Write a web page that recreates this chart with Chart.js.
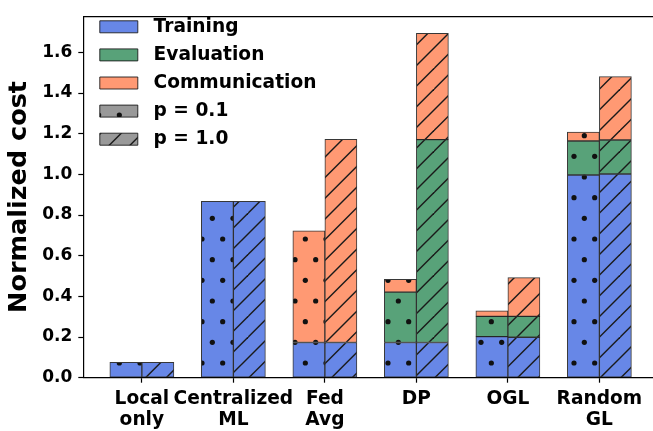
<!DOCTYPE html>
<html>
<head>
<meta charset="utf-8">
<script src="https://cdn.jsdelivr.net/npm/chart.js@4.4.1/dist/chart.umd.min.js"></script>
<style>
  html, body { margin: 0; padding: 0; background: #fff; }
  #c { display: block; }
</style>
</head>
<body>
<canvas id="c" width="653" height="431"></canvas>
<script>
// ---- data ----
const categories = [["Local", "only"], ["Centralized", "ML"], ["Fed", "Avg"], "DP", "OGL", ["Random", "GL"]];
const trainingP01      = [0.075, 0.867, 0.173, 0.173, 0.202, 0.997];
const evaluationP01    = [0,     0,     0,     0.248, 0.100, 0.167];
const communicationP01 = [0,     0,     0.549, 0.063, 0.027, 0.044];
const trainingP10      = [0.075, 0.867, 0.173, 0.173, 0.199, 1.002];
const evaluationP10    = [0,     0,     0,     0.998, 0.103, 0.167];
const communicationP10 = [0,     0,     1.000, 0.523, 0.190, 0.312];
const yTickValues = [0.0, 0.2, 0.4, 0.6, 0.8, 1.0, 1.2, 1.4, 1.6];
const legendNames = ["Training", "Evaluation", "Communication", "p = 0.1", "p = 1.0"];
const groupOffsets = [-0.175, 0.175];

// ---- styles ----
const FONT = "'DejaVu Sans', 'Liberation Sans', sans-serif";
const COL_TRAIN = "rgb(103,135,231)";
const COL_EVAL = "rgb(88,162,121)";
const COL_COMM = "rgb(255,153,115)";
const COL_GRAY = "rgb(153,153,153)";
const EDGE = "rgba(20,20,20,0.85)";

const canvas = document.getElementById('c');
const mainCtx = canvas.getContext('2d');

const P = 62 / 3;
function makePattern(color, kind) {
  const c = document.createElement('canvas');
  c.width = 62; c.height = 124;
  const g = c.getContext('2d');
  g.fillStyle = color;
  g.fillRect(0, 0, c.width, c.height);
  g.fillStyle = '#111';
  g.strokeStyle = '#1a1a1a';
  if (kind === 'dots') {
    for (let r = -1; r <= 7; r++) {
      const y = 11.67 + r * P;
      const off = (r % 2 === 0) ? 5.67 : 16.0;
      for (let x = off - P; x <= c.width + P; x += P) {
        g.beginPath();
        g.arc(x, y, 2.6, 0, Math.PI * 2);
        g.fill();
      }
    }
  } else if (kind === 'lines') {
    g.lineWidth = 1.4;
    for (let k = -2; k <= 12; k++) {
      const cc = 6.6 + k * P;
      g.beginPath();
      g.moveTo(cc + 20, -20);
      g.lineTo(cc - c.height - 20, c.height + 20);
      g.stroke();
    }
  }
  return mainCtx.createPattern(c, 'repeat');
}

function pts(values, off) {
  return values.map((v, i) => ({ x: i + off, y: v === 0 ? null : v }));
}

function ds(label, values, off, color, kind) {
  return {
    label: label,
    data: pts(values, off),
    backgroundColor: makePattern(color, kind),
    borderColor: EDGE,
    borderWidth: 1,
    borderSkipped: false,
    categoryPercentage: 1.0,
    barPercentage: 1.0
  };
}

const datasets = [
  ds('Training p=0.1', trainingP01, groupOffsets[0], COL_TRAIN, 'dots'),
  ds('Evaluation p=0.1', evaluationP01, groupOffsets[0], COL_EVAL, 'dots'),
  ds('Communication p=0.1', communicationP01, groupOffsets[0], COL_COMM, 'dots'),
  ds('Training p=1.0', trainingP10, groupOffsets[1], COL_TRAIN, 'lines'),
  ds('Evaluation p=1.0', evaluationP10, groupOffsets[1], COL_EVAL, 'lines'),
  ds('Communication p=1.0', communicationP10, groupOffsets[1], COL_COMM, 'lines')
];

const legendFills = [COL_TRAIN, COL_EVAL, COL_COMM, makePattern(COL_GRAY, 'dots'), makePattern(COL_GRAY, 'lines')];

const X_MIN = -0.64, X_MAX = 5.586;

const legendNudge = {
  id: 'legendNudge',
  afterLayout(chart) {
    if (chart.legend) {
      chart.legend.left += 7;
      chart.legend.top += 8;
    }
  }
};

new Chart(mainCtx, {
  type: 'bar',
  data: { datasets: datasets },
  plugins: [legendNudge],
  options: {
    responsive: false,
    animation: false,
    devicePixelRatio: 1,
    layout: { padding: { top: 4.3, left: 0, right: 0, bottom: 0 } },
    plugins: {
      tooltip: { enabled: false },
      legend: {
        position: 'chartArea',
        align: 'start',
        labels: {
          boxWidth: 38,
          boxHeight: 12,
          padding: 9.5,
          color: '#000',
          font: { family: FONT, size: 18.6, weight: 'bold' },
          generateLabels: () => legendNames.map((t, i) => ({
            text: ' ' + t,
            fillStyle: legendFills[i],
            strokeStyle: EDGE,
            lineWidth: 1,
            hidden: false,
            datasetIndex: i
          }))
        }
      }
    },
    scales: {
      x: {
        type: 'linear',
        min: X_MIN,
        max: X_MAX,
        stacked: true,
        offset: false,
        afterBuildTicks: (s) => { s.ticks = categories.map((_, i) => ({ value: i })); },
        afterFit: (s) => { s.height = 53.3; },
        ticks: {
          autoSkip: false,
          maxRotation: 0,
          minRotation: 0,
          padding: 6.5,
          color: '#000',
          font: { family: FONT, size: 18.6, weight: 'bold', lineHeight: 1.11 },
          callback: (v, i) => categories[i]
        },
        grid: { display: true, drawOnChartArea: false, drawTicks: true, tickLength: 5, tickColor: '#000', tickWidth: 1.2, offset: false },
        border: { display: true, color: '#000', width: 1.2 }
      },
      x2: {
        type: 'linear',
        position: 'top',
        min: X_MIN,
        max: X_MAX,
        offset: false,
        afterFit: (s) => { s.height = 0; },
        ticks: { display: false },
        grid: { display: false, drawTicks: false },
        border: { display: true, color: '#000', width: 1.2 }
      },
      y: {
        stacked: true,
        min: 0,
        max: 1.778,
        afterBuildTicks: (s) => { s.ticks = yTickValues.map(v => ({ value: v })); },
        afterFit: (s) => { s.width = 83.3; },
        ticks: {
          includeBounds: false,
          padding: 6,
          color: '#000',
          font: { family: FONT, size: 17, weight: 'bold' },
          callback: (v) => Number(v).toFixed(1)
        },
        grid: { display: true, drawOnChartArea: false, drawTicks: true, tickLength: 5, tickColor: '#000', tickWidth: 1.2 },
        border: { display: true, color: '#000', width: 1.2 },
        title: {
          display: true,
          text: 'Normalized cost',
          color: '#000',
          font: { family: FONT, size: 25.5, weight: 'bold' },
          padding: { top: 4, bottom: 0 }
        }
      }
    }
  }
});
</script>
</body>
</html>
